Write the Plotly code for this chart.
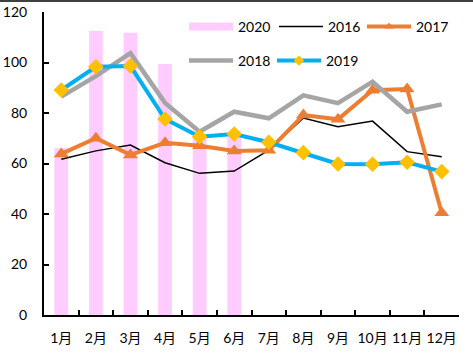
import plotly.graph_objects as go

months = ["1月", "2月", "3月", "4月", "5月", "6月", "7月", "8月", "9月", "10月", "11月", "12月"]
v2020 = [66, 112.5, 111.8, 99.4, 70, 70.5]
v2016 = [61.7, 65, 67.3, 60.3, 56.1, 57, 65.3, 78, 74.6, 76.8, 64.7, 62.7]
v2017 = [63.8, 70, 63.4, 68.2, 67, 65, 65.2, 79.2, 77.5, 89, 89.5, 40.5]
v2018 = [86.5, 94.6, 103.7, 84, 72.6, 80.5, 77.9, 87, 83.9, 92.4, 80.5, 83.4]
v2019 = [89.1, 98.3, 98.6, 77.6, 70.6, 71.7, 68.4, 64.3, 59.8, 59.7, 60.5, 56.8]

PINK = "#FFCCFF"
ORANGE = "#ED7D31"
GRAY = "#A5A5A5"
BLUE = "#00B0F0"
GOLD = "#FFC000"
FONT = "Lato, Noto Sans CJK SC, sans-serif"

W, H = 473, 355
L, R, T, B = 44, 14, 12, 40
PW, PH = W - L - R, H - T - B


def px_x(x):
    return (x - L) / PW


def px_y(y):
    return (H - B - y) / PH


fig = go.Figure()
# data traces
fig.add_trace(go.Bar(x=months[:len(v2020)], y=v2020, name="2020", marker=dict(color=PINK, line=dict(width=0)),
                     width=0.4, showlegend=False))
fig.add_trace(go.Scatter(x=months, y=v2016, mode="lines", name="2016", line=dict(color="black", width=1.5),
                         showlegend=False))
fig.add_trace(go.Scatter(x=months, y=v2017, mode="lines+markers", name="2017", line=dict(color=ORANGE, width=4),
                         marker=dict(symbol="triangle-up", size=13, color=ORANGE), showlegend=False))
fig.add_trace(go.Scatter(x=months, y=v2018, mode="lines", name="2018", line=dict(color=GRAY, width=4.5),
                         showlegend=False))
fig.add_trace(go.Scatter(x=months, y=v2019, mode="lines+markers", name="2019", line=dict(color=BLUE, width=4),
                         marker=dict(symbol="diamond", size=12, color=GOLD), showlegend=False))

# legend entries (legend-only swatches)
fig.add_trace(go.Scatter(x=[None], y=[None], mode="lines", name="2020", line=dict(color=PINK, width=8), legend="legend"))
fig.add_trace(go.Scatter(x=[None], y=[None], mode="lines", name="2016", line=dict(color="black", width=1.5), legend="legend2"))
fig.add_trace(go.Scatter(x=[None], y=[None], mode="lines+markers", name="2017", line=dict(color=ORANGE, width=4),
                         marker=dict(symbol="triangle-up", size=8, color=ORANGE), legend="legend3"))
fig.add_trace(go.Scatter(x=[None], y=[None], mode="lines", name="2018", line=dict(color=GRAY, width=4.5), legend="legend4"))
fig.add_trace(go.Scatter(x=[None], y=[None], mode="lines+markers", name="2019", line=dict(color=BLUE, width=4),
                         marker=dict(symbol="diamond", size=8, color=GOLD), legend="legend5"))

legend_common = dict(orientation="h", font=dict(family=FONT, size=14, color="black"),
                     bgcolor="rgba(0,0,0,0)", itemwidth=44, xanchor="left", yanchor="middle")
leg_pos = {"legend": (184, 27), "legend2": (274, 27), "legend3": (362, 27),
           "legend4": (184, 61), "legend5": (272, 61)}
legends = {k: dict(x=px_x(x), y=px_y(y), **legend_common) for k, (x, y) in leg_pos.items()}

fig.update_layout(
    width=W, height=H,
    margin=dict(l=L, r=R, t=T, b=B, autoexpand=False),
    paper_bgcolor="white", plot_bgcolor="white",
    font=dict(family=FONT, size=14, color="black"),
    showlegend=True,
    bargap=0.6,
    xaxis=dict(type="category", categoryorder="array", categoryarray=months, automargin=False,
               range=[-0.5, len(months) - 0.5],
               showline=True, linecolor="black", linewidth=2, ticks="inside", ticklen=5,
               tickwidth=2, tickcolor="black", tickson="boundaries", showgrid=False, tickangle=0,
               tickfont=dict(family=FONT, size=14), ticklabelstandoff=9),
    yaxis=dict(range=[0, 120], dtick=20, showline=True, linecolor="black", linewidth=2, automargin=False,
               ticks="inside", ticklen=5, tickwidth=2, tickcolor="black", showgrid=False,
               zeroline=False, tickfont=dict(family=FONT, size=14), ticklabelstandoff=12),
    shapes=[dict(type="line", xref="paper", yref="paper", x0=px_x(0), x1=px_x(W), y0=px_y(1), y1=px_y(1),
                 line=dict(color="black", width=1.5))],
    **legends,
)
fig.write_html("out.html", config={"displayModeBar": False},
               post_script="document.body.style.margin='0';document.body.style.overflow='hidden';")
